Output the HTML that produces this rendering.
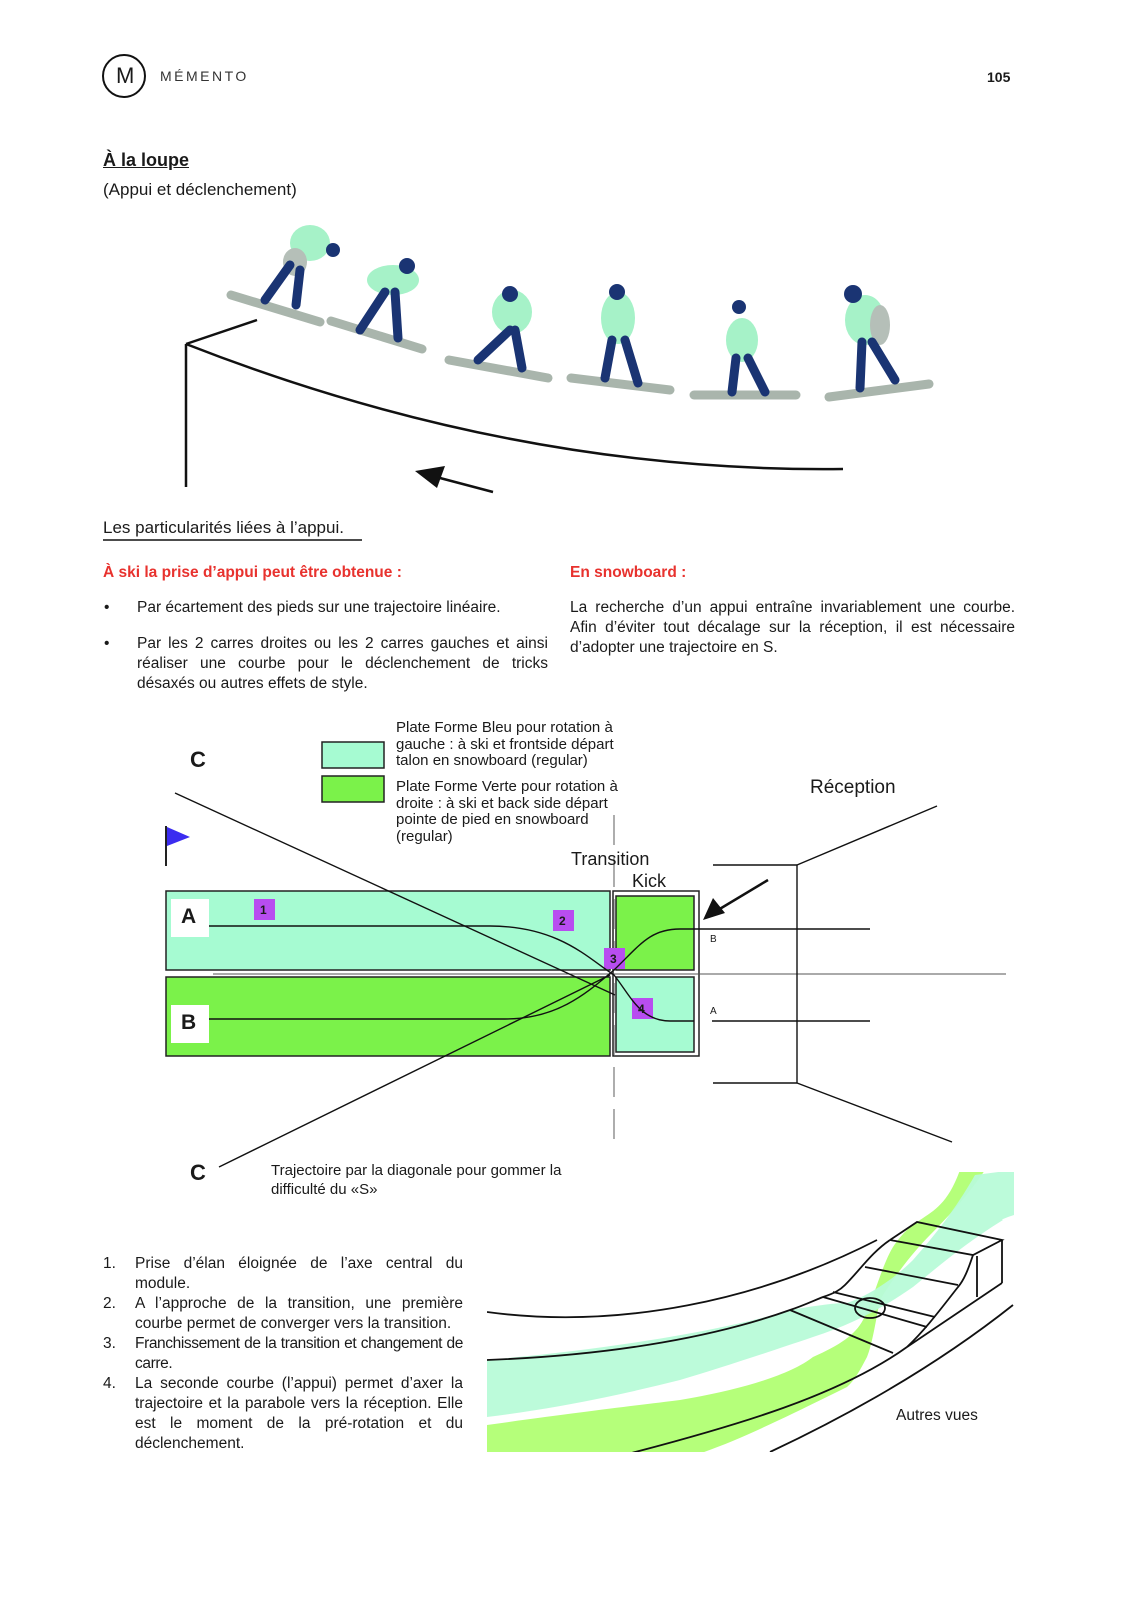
<!DOCTYPE html>
<html><head><meta charset="utf-8"><style>
html,body{margin:0;padding:0;background:#fff;}
body{width:1140px;height:1600px;position:relative;overflow:hidden;font-family:"Liberation Sans","DejaVu Sans",sans-serif;color:#1a1a1a;}
.t{position:absolute;font-size:15.5px;line-height:20px;white-space:nowrap;}
.j{position:absolute;font-size:15.5px;line-height:20px;text-align:justify;}
.red{color:#e8322e;font-weight:bold;}
svg{position:absolute;left:0;top:0;}
</style></head><body>
<svg width="1140" height="1600" viewBox="0 0 1140 1600">
<circle cx="124" cy="76" r="21" fill="none" stroke="#111" stroke-width="2"/>
<g fill="none" stroke="#111" stroke-width="2.5">
<line x1="186" y1="344" x2="186" y2="487"/>
<line x1="186" y1="344" x2="257" y2="320"/>
<path d="M186,344 C380,420 600,472 843,469"/>
<line x1="493" y1="492" x2="440" y2="478"/>
</g>
<polygon points="415,471 445,466 437,488" fill="#111"/>
<g stroke-linecap="round">
<g stroke="#a9b5ac" stroke-width="9"><line x1="231" y1="295" x2="320" y2="322"/><line x1="331" y1="321" x2="422" y2="349"/><line x1="449" y1="360" x2="548" y2="378"/><line x1="571" y1="378" x2="670" y2="390"/><line x1="694" y1="395" x2="796" y2="395"/><line x1="829" y1="397" x2="929" y2="384"/></g>
</g>
<g fill="#a6f2c8">
<ellipse cx="310" cy="243" rx="20" ry="18"/><ellipse cx="295" cy="262" rx="12" ry="14" fill="#b5bfb8"/>
<ellipse cx="393" cy="280" rx="26" ry="15"/>
<ellipse cx="512" cy="312" rx="20" ry="22"/>
<ellipse cx="618" cy="318" rx="17" ry="26"/>
<ellipse cx="742" cy="340" rx="16" ry="22"/>
<ellipse cx="865" cy="320" rx="20" ry="25"/><ellipse cx="880" cy="325" rx="10" ry="20" fill="#b5bfb8"/>
</g>
<g stroke="#1a3473" stroke-width="9" fill="none" stroke-linecap="round">
<path d="M290,265 L265,300 M300,270 L296,305"/>
<path d="M385,292 L360,330 M395,292 L398,338"/>
<path d="M510,330 L478,360 M515,330 L522,368"/>
<path d="M612,340 L605,378 M625,340 L638,383"/>
<path d="M736,358 L732,392 M748,358 L765,392"/>
<path d="M862,342 L860,388 M872,342 L895,380"/>
</g>
<g fill="#1a3473"><circle cx="333" cy="250" r="7"/><circle cx="407" cy="266" r="8"/><circle cx="510" cy="294" r="8"/><circle cx="617" cy="292" r="8"/><circle cx="739" cy="307" r="7"/><circle cx="853" cy="294" r="9"/></g>
<line x1="103" y1="540" x2="362" y2="540" stroke="#111" stroke-width="1.5"/>
<rect x="322" y="742" width="62" height="26" fill="#a6fbd2" stroke="#222" stroke-width="1.5"/>
<rect x="322" y="776" width="62" height="26" fill="#7bf24a" stroke="#222" stroke-width="1.5"/>
<line x1="166" y1="826" x2="166" y2="866" stroke="#222" stroke-width="2"/>
<polygon points="167,827 190,837 167,846" fill="#3b2cf0"/>
<rect x="166" y="891" width="444" height="79" fill="#a6fbd2" stroke="#222" stroke-width="1.5"/>
<rect x="166" y="977" width="444" height="79" fill="#7bf24a" stroke="#222" stroke-width="1.5"/>
<rect x="613" y="891" width="86" height="165" fill="none" stroke="#222" stroke-width="1.5"/>
<rect x="616" y="896" width="78" height="74" fill="#7bf24a" stroke="#222" stroke-width="1.5"/>
<rect x="616" y="977" width="78" height="75" fill="#a6fbd2" stroke="#222" stroke-width="1.5"/>
<line x1="213" y1="974" x2="1006" y2="974" stroke="#555" stroke-width="1"/>
<line x1="614" y1="815" x2="614" y2="1150" stroke="#777" stroke-width="1.2" stroke-dasharray="30,12"/>
<rect x="171" y="899" width="38" height="38" fill="#fff"/>
<rect x="171" y="1005" width="38" height="38" fill="#fff"/>
<g fill="#b84df0"><rect x="254" y="899" width="21" height="21"/><rect x="553" y="910" width="21" height="21"/><rect x="604" y="948" width="21" height="21"/><rect x="632" y="998" width="21" height="21"/></g>
<g fill="none" stroke="#111" stroke-width="1.4">
<line x1="175" y1="793" x2="615" y2="995"/>
<line x1="219" y1="1167" x2="610" y2="975"/>
<path d="M209,926 L490,926 C560,926 590,960 614,975 C630,995 640,1021 670,1021 L694,1021"/>
<path d="M209,1019 L505,1019 C560,1019 590,990 614,970 C640,945 650,929 680,929 L706,929"/>
<line x1="706" y1="929" x2="870" y2="929"/>
<line x1="712" y1="1021" x2="870" y2="1021"/>
<line x1="713" y1="865" x2="797" y2="865"/>
<line x1="797" y1="865" x2="797" y2="1083"/>
<line x1="713" y1="1083" x2="797" y2="1083"/>
<line x1="797" y1="865" x2="937" y2="806"/>
<line x1="797" y1="1083" x2="952" y2="1142"/>
</g>
<line x1="768" y1="880" x2="718" y2="910" stroke="#111" stroke-width="2.5"/>
<polygon points="703,920 713,898 725,913" fill="#111"/>
<defs><clipPath id="cp"><rect x="487" y="1172" width="527" height="280"/></clipPath></defs>
<g clip-path="url(#cp)">
<path d="M487,1425 C580,1412 640,1405 680,1400 C740,1390 790,1375 813,1357 C840,1345 855,1335 863,1320 C875,1295 882,1265 893,1247 C903,1232 912,1225 920,1220 C935,1210 948,1203 960,1170 L985,1170 C975,1185 960,1205 930,1235 C915,1250 895,1275 880,1300 C875,1325 872,1345 867,1357 C860,1370 855,1380 847,1387 C780,1420 730,1445 680,1460 L487,1460 Z" fill="#b5ff7a"/>
<path d="M487,1360 C600,1350 720,1332 790,1310 C820,1305 835,1303 847,1303 C870,1295 895,1278 913,1260 C935,1235 955,1210 975,1175 L1014,1170 L1014,1215 C1005,1218 1000,1220 1003,1220 C970,1240 940,1265 913,1287 C880,1310 850,1325 813,1337 C760,1355 720,1368 680,1380 C620,1395 560,1408 487,1417 Z" fill="#b8fbd8" opacity="0.95"/>
</g>
<g fill="none" stroke="#111" stroke-width="1.8" clip-path="url(#cp)">
<path d="M487,1312 C620,1330 760,1300 877,1240"/>
<path d="M487,1360 C620,1355 720,1335 790,1310 C805,1305 815,1300 823,1297 C835,1293 840,1290 845,1285 C860,1270 872,1252 890,1240"/>
<path d="M890,1240 L917,1222 L1002,1240 L973,1255 L890,1240"/>
<path d="M973,1255 C968,1270 964,1280 958,1287 C940,1310 925,1330 907,1347"/>
<line x1="977" y1="1256" x2="977" y2="1297"/>
<line x1="1002" y1="1240" x2="1002" y2="1283"/>
<line x1="1002" y1="1283" x2="907" y2="1347"/>
<path d="M620,1456 C740,1425 840,1395 907,1347"/>
<path d="M770,1452 C870,1405 950,1355 1013,1305"/>
<line x1="790" y1="1310" x2="893" y2="1353"/>
<line x1="823" y1="1297" x2="927" y2="1327"/>
<line x1="833" y1="1292" x2="935" y2="1317"/>
<line x1="865" y1="1267" x2="958" y2="1285"/>
<ellipse cx="870" cy="1308" rx="15" ry="10"/>
</g>
</svg>
<div class="t" style="left:116px;top:64px;font-size:22px;line-height:24px;">M</div>
<div class="t" style="left:160px;top:66px;font-size:14px;letter-spacing:2.5px;color:#333;">MÉMENTO</div>
<div class="t" style="left:987px;top:67px;font-size:14px;font-weight:bold;">105</div>
<div class="t" style="left:103px;top:150px;font-size:18px;font-weight:bold;text-decoration:underline;">À la loupe</div>
<div class="t" style="left:103px;top:180px;font-size:17px;">(Appui et déclenchement)</div>
<div class="t" style="left:103px;top:518px;font-size:17px;">Les particularités liées à l’appui.</div>
<div class="t red" style="left:103px;top:563px;">À ski la prise d’appui peut être obtenue :</div>
<div class="t red" style="left:570px;top:563px;">En snowboard :</div>
<div class="t" style="left:104px;top:598px;">•</div>
<div class="t" style="left:137px;top:598px;">Par écartement des pieds sur une trajectoire linéaire.</div>
<div class="t" style="left:104px;top:634px;">•</div>
<div class="j" style="left:137px;top:634px;width:411px;">Par les 2 carres droites ou les 2 carres gauches et ainsi réaliser une courbe pour le déclenchement de tricks désaxés ou autres effets de style.</div>
<div class="j" style="left:570px;top:598px;width:445px;">La recherche d’un appui entraîne invariablement une courbe. Afin d’éviter tout décalage sur la réception, il est nécessaire d’adopter une trajectoire en S.</div>
<div class="t" style="left:396px;top:720px;font-size:15px;line-height:16.5px;">Plate Forme Bleu pour rotation à<br>gauche : à ski et frontside départ<br>talon en snowboard (regular)</div>
<div class="t" style="left:396px;top:779px;font-size:15px;line-height:16.5px;">Plate Forme Verte pour rotation à<br>droite : à ski et back side départ<br>pointe de pied en snowboard<br>(regular)</div>
<div class="t" style="left:190px;top:750px;font-size:22px;font-weight:bold;">C</div>
<div class="t" style="left:190px;top:1163px;font-size:22px;font-weight:bold;">C</div>
<div class="t" style="left:810px;top:778px;font-size:19px;">Réception</div>
<div class="t" style="left:571px;top:849px;font-size:18px;">Transition</div>
<div class="t" style="left:632px;top:871px;font-size:18px;">Kick</div>
<div class="t" style="left:181px;top:907px;font-size:21px;font-weight:bold;">A</div>
<div class="t" style="left:181px;top:1013px;font-size:21px;font-weight:bold;">B</div>
<div class="t" style="left:260px;top:900px;font-size:12px;font-weight:bold;">1</div>
<div class="t" style="left:559px;top:911px;font-size:12px;font-weight:bold;">2</div>
<div class="t" style="left:610px;top:949px;font-size:12px;font-weight:bold;">3</div>
<div class="t" style="left:638px;top:999px;font-size:12px;font-weight:bold;">4</div>
<div class="t" style="left:710px;top:930px;font-size:10px;">B</div>
<div class="t" style="left:710px;top:1002px;font-size:10px;">A</div>
<div class="t" style="left:271px;top:1161px;font-size:15px;line-height:19px;">Trajectoire par la diagonale pour gommer la<br>difficulté du «S»</div>
<div class="t" style="left:103px;top:1254px;">1.</div>
<div class="j" style="left:135px;top:1254px;width:328px;">Prise d’élan éloignée de l’axe central du module.</div>
<div class="t" style="left:103px;top:1294px;">2.</div>
<div class="j" style="left:135px;top:1294px;width:328px;">A l’approche de la transition, une première courbe permet de converger vers la transition.</div>
<div class="t" style="left:103px;top:1334px;">3.</div>
<div class="j" style="left:135px;top:1334px;width:328px;letter-spacing:-0.4px;">Franchissement de la transition et changement de carre.</div>
<div class="t" style="left:103px;top:1374px;">4.</div>
<div class="j" style="left:135px;top:1374px;width:328px;">La seconde courbe (l’appui) permet d’axer la trajectoire et la parabole vers la réception. Elle est le moment de la pré-rotation et du déclenchement.</div>
<div class="t" style="left:896px;top:1406px;">Autres vues</div>
</body></html>
